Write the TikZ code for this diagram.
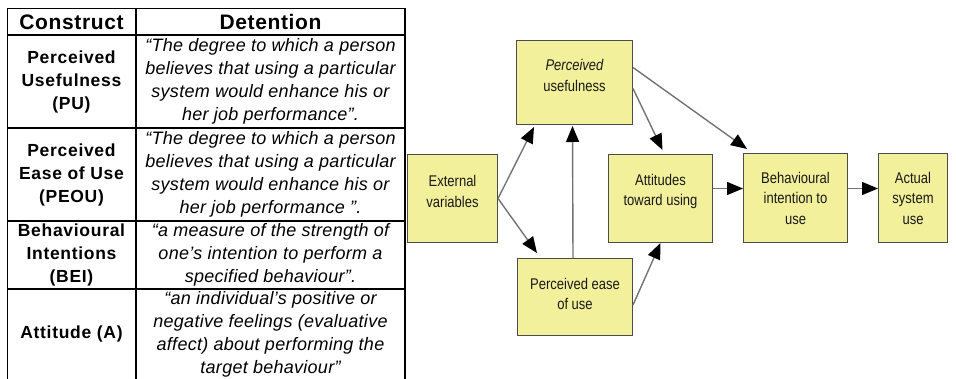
\documentclass[tikz,border=0pt]{standalone}
\usepackage{fontspec}
\setmainfont{Liberation Sans}
\newfontfamily\narrowfont[FakeStretch=0.84]{Liberation Sans}
\usetikzlibrary{arrows.meta}
\definecolor{boxyellow}{RGB}{242,240,155}
\begin{document}
\begin{tikzpicture}[x=1pt,y=-1pt,
  tline/.style={line width=1.4pt},
  hdr/.style={font=\fontsize{21}{24}\selectfont\bfseries\addfontfeature{LetterSpace=3}},
  lbl/.style={font=\fontsize{17.5}{23}\selectfont\bfseries\addfontfeature{LetterSpace=4}, align=center, inner sep=0pt},
  dfn/.style={font=\fontsize{18}{23}\selectfont\itshape\addfontfeature{LetterSpace=1.5}, align=center, inner sep=0pt},
  box/.style={draw=black!70, fill=boxyellow, line width=1pt, anchor=north west, inner sep=0pt},
  btext/.style={font=\narrowfont\fontsize{15.5}{20.5}\selectfont, align=center, inner sep=0pt, text=black!90},
  arr/.style={draw=black!55, line width=1.4pt, -{Triangle[length=16pt,width=13pt,fill=black,color=black]}}
]
\useasboundingbox (0,0) rectangle (956,379);
% ---------- table ----------
\coordinate (tl) at (7.5,8.5);
\coordinate (tr) at (405,8.5);
\coordinate (bl) at (7.5,379);
\coordinate (br) at (405,379);
\coordinate (mt) at (136,8.5);
\coordinate (mb) at (136,379);
\draw[tline] (bl) -- (tl) -- (tr) -- (br);
\draw[tline] (mt) -- (mb);
\coordinate (h1l) at (7.5,35); \coordinate (h1r) at (405,35);
\coordinate (h2l) at (7.5,128); \coordinate (h2r) at (405,128);
\coordinate (h3l) at (7.5,221); \coordinate (h3r) at (405,221);
\coordinate (h4l) at (7.5,289); \coordinate (h4r) at (405,289);
\draw[tline] (h1l) -- (h1r);
\draw[tline] (h2l) -- (h2r);
\draw[tline] (h3l) -- (h3r);
\draw[tline] (h4l) -- (h4r);

\node[hdr] (hc) at (71.5,22) {Construct};
\node[hdr] (hd) at (270.5,22) {Detention};

\node[lbl] (l1) at (71.5,81.5) {Perceived\\Usefulness\\(PU)};
\node[lbl] (l2) at (71.5,174.5) {Perceived\\Ease of Use\\(PEOU)};
\node[lbl] (l3) at (71.5,255) {Behavioural\\Intentions\\(BEI)};
\node[lbl] (l4) at (71.5,334) {Attitude (A)};

\node[dfn] (d1) at (270.5,81.5) {“The degree to which a person\\believes that using a particular\\system would enhance his or\\her job performance”.};
\node[dfn] (d2) at (270.5,174.5) {“The degree to which a person\\believes that using a particular\\system would enhance his or\\her job performance ”.};
\node[dfn] (d3) at (270.5,255) {“a measure of the strength of\\one’s intention to perform a\\specified behaviour”.};
\node[dfn] (d4) at (270.5,334.5) {“an individual’s positive or\\negative feelings (evaluative\\affect) about performing the\\target behaviour”};

% ---------- TAM diagram ----------
\node[box, minimum width=116pt, minimum height=84pt] (pu) at (516,40) {};
\node[box, minimum width=90pt, minimum height=88pt] (ext) at (407,154) {};
\node[box, minimum width=115pt, minimum height=77pt] (peou) at (517,258) {};
\node[box, minimum width=104pt, minimum height=88pt] (att) at (608,154) {};
\node[box, minimum width=104pt, minimum height=89pt] (bi) at (743,153) {};
\node[box, minimum width=69pt, minimum height=89pt] (asu) at (878,153) {};

\node[btext] (put) at ([yshift=7pt]pu.center) {\itshape Perceived\\usefulness};
\node[btext] (extt) at ([yshift=7pt]ext.center) {External\\variables};
\node[btext] (peout) at ([yshift=3pt]peou.center) {Perceived ease\\of use};
\node[btext] (attt) at ([yshift=7pt]att.center) {Attitudes\\toward using};
\node[btext] (bit) at (bi.center) {Behavioural\\intention to\\use};
\node[btext] (asut) at (asu.center) {Actual\\system\\use};

\draw[arr] (ext.east) -- ([xshift=18pt,yshift=-2pt]pu.south west);
\draw[arr] (ext.east) -- ([xshift=20pt,yshift=5pt]peou.north west);
\draw[arr] ([xshift=-2pt]peou.north) -- ([xshift=-2pt,yshift=-1pt]pu.south);
\draw[arr] ([yshift=-8pt]peou.east) -- (att.south);
\draw[arr] ([yshift=-6pt]pu.east) -- ([xshift=2pt,yshift=4pt]att.north);
\draw[arr] ([yshift=15pt]pu.east) -- ([xshift=4pt,yshift=4pt]bi.north west);
\draw[arr] ([yshift=10pt]att.east) -- ([yshift=9.5pt]bi.west);
\draw[arr] ([yshift=9.5pt]bi.east) -- ([yshift=9.5pt]asu.west);
\end{tikzpicture}
\end{document}
